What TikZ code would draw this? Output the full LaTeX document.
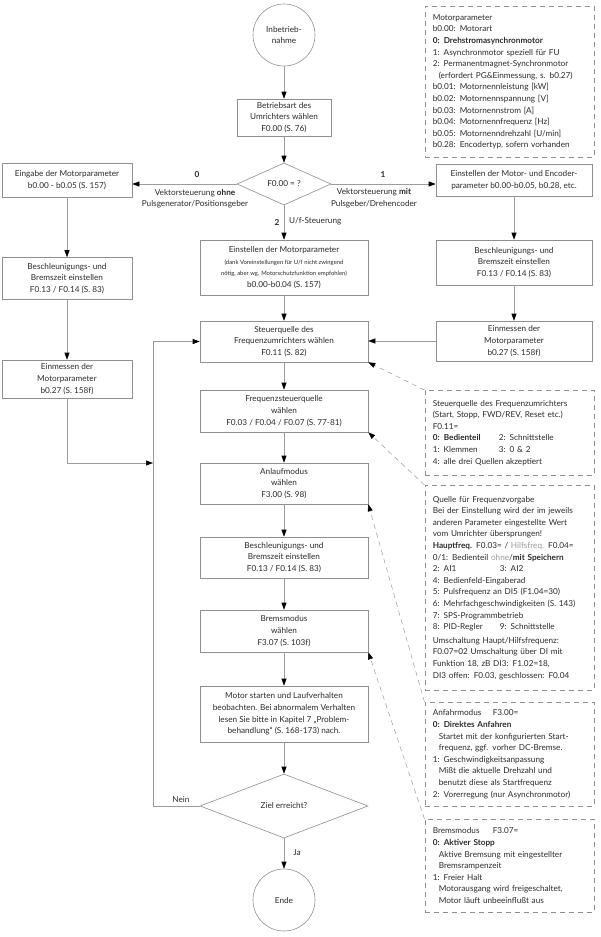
\documentclass[tikz,border=0pt]{standalone}
\usepackage{fontspec}
\setmainfont{Lato}
\usetikzlibrary{arrows.meta,shapes.geometric}
\definecolor{linec}{HTML}{9C9C9C}
\definecolor{boxc}{HTML}{8F8F8F}
\definecolor{txtc}{HTML}{2B2B2B}
\definecolor{lightc}{HTML}{9A9A9A}
\newcommand\nf{\fontsize{8.2}{11.6}\selectfont}
\newcommand\smf{\fontsize{5.9}{7.6}\selectfont}
\begin{document}
\begin{tikzpicture}[x=1pt,y=-1pt,
  every node/.style={font=\nf, text=txtc},
  box/.style={draw=boxc, line width=0.6pt, rectangle, align=center, inner sep=0pt},
  circ/.style={draw=boxc, line width=0.6pt, circle, minimum size=62pt, inner sep=0pt, align=center},
  dia/.style={draw=boxc, line width=0.6pt, diamond, inner sep=0pt, align=center},
  note/.style={draw=boxc, line width=0.6pt, dash pattern=on 5pt off 4pt, align=left,
     inner xsep=8pt, inner ysep=0pt, text width=153pt, anchor=north west},
  conn/.style={draw=linec, line width=0.6pt},
  arr/.style={conn, -{Triangle[length=7pt,width=5pt,color=black]}},
  darr/.style={draw=linec, line width=0.5pt, dash pattern=on 5pt off 4pt,
     -{Triangle[length=7pt,width=5pt,color=black]}},
  bl/.style={font=\nf\bfseries}
]
\path[fill=white, use as bounding box] (0,0) rectangle (600,937);

% main column
\node[circ] (start) at (284,35) {Inbetrieb-\\nahme};
\node[box, minimum width=94pt, minimum height=37pt] (betrieb) at (284,117.5) {Betriebsart des\\Umrichters wählen\\F0.00 (S. 76)};
\node[dia, minimum width=94pt, minimum height=42pt, aspect=2.2] (dec) at (284,184) {F0.00 = ?};
\node[box, minimum width=168pt, minimum height=55pt] (m2) at (284,267.5) {Einstellen der Motorparameter\\{\smf (dank Voreinstellungen für U/f nicht zwingend}\\{\smf nötig, aber wg. Motorschutzfunktion empfohlen)}\\b0.00-b0.04 (S. 157)};
\node[box, minimum width=168pt, minimum height=41pt] (steuer) at (284,341.5) {Steuerquelle des\\Frequenzumrichters wählen\\F0.11 (S. 82)};
\node[box, minimum width=168pt, minimum height=42pt] (freq) at (284,411) {Frequenzsteuerquelle\\wählen\\F0.03 / F0.04 / F0.07 (S. 77-81)};
\node[box, minimum width=168pt, minimum height=41pt] (anlauf) at (284,483.5) {Anlaufmodus\\wählen\\F3.00 (S. 98)};
\node[box, minimum width=168pt, minimum height=41pt] (beschl) at (284,557.5) {Beschleunigungs- und\\Bremszeit einstellen\\F0.13 / F0.14 (S. 83)};
\node[box, minimum width=168pt, minimum height=42pt] (brems) at (284,631) {Bremsmodus\\wählen\\F3.07 (S. 103f)};
\node[box, minimum width=168pt, minimum height=56pt] (motor) at (284,714) {Motor starten und Laufverhalten\\beobachten. Bei abnormalem Verhalten\\lesen Sie bitte in Kapitel 7 „Problem-\\behandlung“ (S. 168-173) nach.};
\node[dia, minimum width=168pt, minimum height=64pt, aspect=2.6] (ziel) at (284,806) {Ziel erreicht?};
\node[circ] (ende) at (284,900) {Ende};

% left column
\node[box, minimum width=130pt, minimum height=34pt] (l1) at (67,180) {Eingabe der Motorparameter\\b0.00 - b0.05 (S. 157)};
\node[box, minimum width=130pt, minimum height=42pt] (l2) at (67,278.5) {Beschleunigungs- und\\Bremszeit einstellen\\F0.13 / F0.14 (S. 83)};
\node[box, minimum width=130pt, minimum height=38pt] (l3) at (67,379) {Einmessen der\\Motorparameter\\b0.27 (S. 158f)};

% right column
\node[box, minimum width=156pt, minimum height=32pt] (r1) at (514,180) {Einstellen der Motor- und Encoder-\\parameter b0.00-b0.05, b0.28, etc.};
\node[box, minimum width=156pt, minimum height=45pt] (r2) at (514,262.5) {Beschleunigungs- und\\Bremszeit einstellen\\F0.13 / F0.14 (S. 83)};
\node[box, minimum width=156pt, minimum height=40pt] (r3) at (514,341) {Einmessen der\\Motorparameter\\b0.27 (S. 158f)};

% notes
\node[note, minimum height=151pt] (n1) at (424.5,6) {Motorparameter\\
b0.00: Motorart\\
\textbf{0: Drehstromasynchronmotor}\\
1: Asynchronmotor speziell für FU\\
2: Permanentmagnet-Synchronmotor\\
\hspace*{6pt}(erfordert PG\&Einmessung, s. b0.27)\\
b0.01: Motornennleistung [kW]\\
b0.02: Motornennspannung [V]\\
b0.03: Motornennstrom [A]\\
b0.04: Motornennfrequenz [Hz]\\
b0.05: Motornenndrehzahl [U/min]\\
b0.28: Encodertyp, sofern vorhanden};

\node[note, minimum height=85pt] (n2) at (424.5,390) {Steuerquelle des Frequenzumrichters\\
(Start, Stopp, FWD/REV, Reset etc.)\\
F0.11=\\
\makebox[66pt][l]{\textbf{0: Bedienteil}}2: Schnittstelle\\
\makebox[66pt][l]{1: Klemmen}3: 0 \& 2\\
4: alle drei Quellen akzeptiert};

\node[note, minimum height=205pt] (n3) at (424.5,485) {Quelle für Frequenzvorgabe\\
Bei der Einstellung wird der im jeweils\\
anderen Parameter eingestellte Wert\\
vom Umrichter übersprungen!\\
\textbf{Hauptfreq.} F0.03= / {\color{lightc}Hilfsfreq.} F0.04=\\
0/1: Bedienteil {\color{lightc}ohne}/\textbf{mit Speichern}\\
\makebox[67pt][l]{2: AI1}3: AI2\\
4: Bedienfeld-Eingaberad\\
5: Pulsfrequenz an DI5 (F1.04=30)\\
6: Mehrfachgeschwindigkeiten (S. 143)\\
7: SPS-Programmbetrieb\\
\makebox[67pt][l]{8: PID-Regler}9: Schnittstelle\\[2pt]
Umschaltung Haupt/Hilfsfrequenz:\\
F0.07=02 Umschaltung über DI mit\\
Funktion 18, zB DI3: F1.02=18,\\
DI3 offen: F0.03, geschlossen: F0.04};

\node[note, minimum height=104pt] (n4) at (424.5,702) {\makebox[60pt][l]{Anfahrmodus}F3.00=\\
\textbf{0: Direktes Anfahren}\\
\hspace*{6pt}Startet mit der konfigurierten Start-\\
\hspace*{6pt}frequenz, ggf. vorher DC-Bremse.\\
1: Geschwindigkeitsanpassung\\
\hspace*{6pt}Mißt die aktuelle Drehzahl und\\
\hspace*{6pt}benutzt diese als Startfrequenz\\
2: Vorerregung (nur Asynchronmotor)};

\node[note, minimum height=93pt] (n5) at (424.5,819) {\makebox[60pt][l]{Bremsmodus}F3.07=\\
\textbf{0: Aktiver Stopp}\\
\hspace*{6pt}Aktive Bremsung mit eingestellter\\
\hspace*{6pt}Bremsrampenzeit\\
1: Freier Halt\\
\hspace*{6pt}Motorausgang wird freigeschaltet,\\
\hspace*{6pt}Motor läuft unbeeinflußt aus};

% labels
\node[bl] (lab0) at (197,175) {0};
\node[align=center] (labL) at (195,198.5) {Vektorsteuerung \textbf{ohne}\\Pulsgenerator/Positionsgeber};
\node[bl] (lab1) at (383,175) {1};
\node[align=center] (labR) at (374,198.5) {Vektorsteuerung \textbf{mit}\\Pulsgeber/Drehencoder};
\node[bl] (lab2) at (277,222) {2};
\node[anchor=west, inner sep=0pt] (labU) at (289,221) {U/f-Steuerung};
\node (nein) at (181,800) {Nein};
\node (ja) at (297,853) {Ja};

\coordinate (lj) at (153,463);
\coordinate (lt) at (153,341.5);
\coordinate (lb) at (153,806);

% connectors
\draw[arr] (start) -- (betrieb);
\draw[arr] (betrieb) -- (dec);
\draw[arr] (dec.west) -- (dec.west -| l1.east);
\draw[arr] (dec.east) -- (dec.east -| r1.west);
\draw[arr] (dec) -- (m2);
\draw[arr] (m2) -- (steuer);
\draw[arr] (steuer) -- (freq);
\draw[arr] (freq) -- (anlauf);
\draw[arr] (anlauf) -- (beschl);
\draw[arr] (beschl) -- (brems);
\draw[arr] (brems) -- (motor);
\draw[arr] (motor) -- (ziel);
\draw[arr] (ziel) -- (ende);
\draw[arr] (l1) -- (l2);
\draw[arr] (l2) -- (l3);
\draw[arr] (l3.south) |- (lj);
\draw[arr] (r1) -- (r2);
\draw[arr] (r2) -- (r3);
\draw[arr] (r3.west) -- (r3.west -| steuer.east);
\draw[conn] (ziel.west) -- (lb) -- (lt);
\draw[arr] (lt) -- (steuer.west);

\draw[darr] (n2.north west) -- (steuer.south east);
\draw[darr] (n3.north west) -- (freq.south east);
\draw[darr] (n4.north west) -- (anlauf.south east);
\draw[darr] (n5.north west) -- (brems.south east);
\end{tikzpicture}
\end{document}
